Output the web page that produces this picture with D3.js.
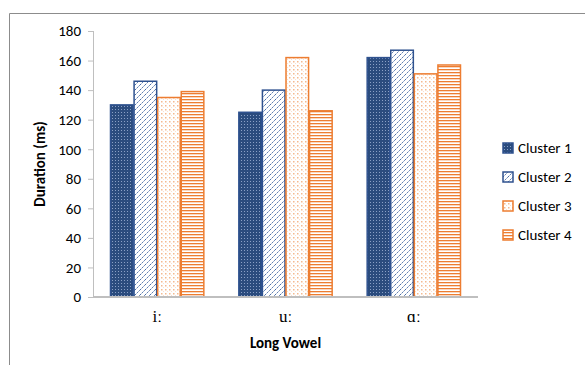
<html lang="en">
<head>
  <meta http-equiv="Content-Type" content="text/html; charset=utf-8" />
  <script src="https://d3js.org/d3.v7.min.js"></script>
  <style>
    body { margin: 0; background: white; }
  </style>
</head>
<body>
  <div id="chart"></div>
  <script>
    'use strict';
    const categories = ["iː", "uː", "ɑː"];
    const seriesNames = ["Cluster 1", "Cluster 2", "Cluster 3", "Cluster 4"];
    const cluster1 = [130, 125, 162];
    const cluster2 = [146, 140, 167];
    const cluster3 = [135, 162, 151];
    const cluster4 = [139, 126, 157];
    const yTicks = [0, 20, 40, 60, 80, 100, 120, 140, 160, 180];
    const seriesValues = [cluster1, cluster2, cluster3, cluster4];

    const width = 585, height = 365;
    const blue = "#2f528f", orange = "#ed7d31";
    const fontFamily = "Calibri, Carlito, 'Open Sans', sans-serif";

    const svg = d3.select("#chart").append("svg")
      .attr("width", width).attr("height", height);

    // patterns
    const defs = svg.append("defs");
    const p1 = defs.append("pattern").attr("id", "pat1").attr("patternUnits", "userSpaceOnUse")
      .attr("width", 3).attr("height", 3);
    p1.append("rect").attr("width", 3).attr("height", 3).attr("fill", "#2b4c7e");
    p1.append("rect").attr("x", 1).attr("y", 1).attr("width", 1).attr("height", 1).attr("fill", "#8aa0c6");

    const p2 = defs.append("pattern").attr("id", "pat2").attr("patternUnits", "userSpaceOnUse")
      .attr("width", 5).attr("height", 5);
    p2.append("rect").attr("width", 5).attr("height", 5).attr("fill", "white");
    p2.append("path").attr("d", "M0,5 L5,0 M-1,1 L1,-1 M4,6 L6,4")
      .attr("stroke", "#4a6ea8").attr("stroke-width", 1).attr("stroke-dasharray", "2,1");

    const p3 = defs.append("pattern").attr("id", "pat3").attr("patternUnits", "userSpaceOnUse")
      .attr("width", 4).attr("height", 4);
    p3.append("rect").attr("width", 4).attr("height", 4).attr("fill", "white");
    p3.append("rect").attr("x", 1).attr("y", 1).attr("width", 1.5).attr("height", 1.5).attr("fill", "#f4b98f");
    p3.append("rect").attr("x", 3).attr("y", 3).attr("width", 1).attr("height", 1).attr("fill", "#fbe0cd");

    const p4 = defs.append("pattern").attr("id", "pat4").attr("patternUnits", "userSpaceOnUse")
      .attr("width", 3).attr("height", 3);
    p4.append("rect").attr("width", 3).attr("height", 3).attr("fill", "white");
    p4.append("rect").attr("y", 0).attr("width", 3).attr("height", 1.3).attr("fill", orange);

    const fills = ["url(#pat1)", "url(#pat2)", "url(#pat3)", "url(#pat4)"];
    const strokes = [blue, blue, orange, orange];

    // frame
    svg.append("path").attr("d", "M9.5,365 L9.5,13.5 L585,13.5")
      .attr("fill", "none").attr("stroke", "#8c8c8c").attr("stroke-width", 1);

    const x0 = d3.scaleBand().domain(categories).range([93, 478]).paddingInner(0.265).paddingOuter(0.1325);
    const x1 = d3.scaleBand().domain(seriesNames).range([0, x0.bandwidth()]);
    const y = d3.scaleLinear().domain([0, 180]).range([297, 31]);

    // y axis
    const yAxis = svg.append("g").attr("transform", "translate(93,0)")
      .call(d3.axisLeft(y).tickValues(yTicks).tickSize(5).tickPadding(7));
    yAxis.select(".domain").attr("stroke", "#bfbfbf").attr("d", "M-5,297.5H0.5V31");
    yAxis.selectAll(".tick line").attr("stroke", "#bfbfbf");
    yAxis.selectAll("text").attr("fill", "#000").style("font-family", fontFamily).style("font-size", "15px");

    // bars
    seriesNames.forEach((s, si) => {
      svg.append("g").selectAll("rect").data(seriesValues[si]).join("rect")
        .attr("x", (d, i) => x0(categories[i]) + x1(s) + 0.5)
        .attr("y", d => y(d))
        .attr("width", x1.bandwidth() - 1)
        .attr("height", d => y(0) - y(d))
        .attr("fill", fills[si])
        .attr("stroke", strokes[si])
        .attr("stroke-width", 1.5);
    });

    // x axis line
    svg.append("line").attr("x1", 93).attr("x2", 478).attr("y1", 297).attr("y2", 297)
      .attr("stroke", "#bfbfbf").attr("stroke-width", 2);

    // x tick labels
    svg.append("g").selectAll("text").data(categories).join("text")
      .attr("x", d => x0(d) + x0.bandwidth() / 2)
      .attr("y", 322)
      .attr("text-anchor", "middle")
      .style("font-family", "'Liberation Serif', 'Times New Roman', serif")
      .style("font-size", "17px")
      .text(d => d);

    // axis titles
    svg.append("text").attr("x", 285.5).attr("y", 348).attr("text-anchor", "middle")
      .style("font-family", fontFamily).style("font-size", "15px").style("font-weight", "bold")
      .text("Long Vowel");
    svg.append("text").attr("transform", "translate(45,164) rotate(-90)").attr("text-anchor", "middle")
      .style("font-family", fontFamily).style("font-size", "15px").style("font-weight", "bold")
      .text("Duration (ms)");

    // legend
    const legend = svg.append("g").selectAll("g").data(seriesNames).join("g")
      .attr("transform", (d, i) => `translate(503,${148 + i * 29})`);
    legend.append("rect").attr("x", 0).attr("y", -5).attr("width", 10).attr("height", 10)
      .attr("fill", (d, i) => fills[i]).attr("stroke", (d, i) => strokes[i]).attr("stroke-width", 1.5);
    legend.append("text").attr("x", 15).attr("y", 0).attr("dy", "0.35em")
      .style("font-family", fontFamily).style("font-size", "15px")
      .text(d => d);
  </script>
</body>
</html>
